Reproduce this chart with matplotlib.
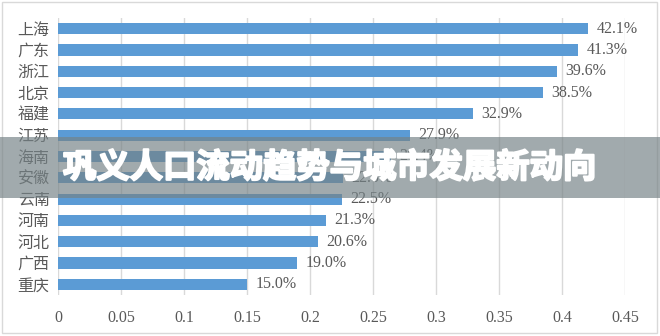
#!/usr/bin/env python3
"""Horizontal bar chart of population share by province, with title banner."""
import matplotlib
matplotlib.use("Agg")
import matplotlib.pyplot as plt
from matplotlib.patches import Rectangle
from matplotlib.ticker import FuncFormatter, MultipleLocator
import matplotlib.patheffects as pe

plt.rcParams["font.family"] = ["Liberation Serif", "Noto Sans CJK SC", "DejaVu Sans"]

provinces = ["上海", "广东", "浙江", "北京", "福建", "江苏", "海南",
             "安徽", "云南", "河南", "河北", "广西", "重庆"]
shares = [0.421, 0.413, 0.396, 0.385, 0.329, 0.279, 0.264,
          0.226, 0.225, 0.213, 0.206, 0.190, 0.150]
title = "巩义人口流动趋势与城市发展新动向"

BAR = "#5b9bd5"
TXT = "#595959"
GRID = "#d9d9d9"

fig = plt.figure(figsize=(6.6, 3.36), dpi=100)
ax = fig.add_axes([58 / 660, 1 - 295 / 336, 567 / 660, 277 / 336])

ypos = list(range(len(provinces)))[::-1]
bars = ax.barh(ypos, shares, height=0.52, color=BAR, zorder=2)
ax.bar_label(bars, labels=[f"{v * 100:.1f}%" for v in shares],
             padding=6, fontsize=11.5, color=TXT)

ax.set_xlim(0, 0.45)
ax.set_ylim(-0.5, len(provinces) - 0.5)
ax.set_yticks(ypos)
ax.set_yticklabels(provinces, fontsize=11.5, color=TXT)
ax.xaxis.set_major_locator(MultipleLocator(0.05))
ax.xaxis.set_major_formatter(FuncFormatter(lambda v, _: f"{v:g}"))
ax.tick_params(axis="x", length=0, pad=11, labelsize=11.5, labelcolor=TXT)
ax.tick_params(axis="y", length=0, pad=6)
ax.grid(axis="x", color=GRID, linewidth=1, zorder=0)
for s in ax.spines.values():
    s.set_visible(False)

# outer chart frame
fig.patches.append(Rectangle((2 / 660, 3 / 336), 655 / 660, 331 / 336,
                             transform=fig.transFigure, fill=False,
                             edgecolor=GRID, linewidth=1))

# title banner across the middle
fig.patches.append(Rectangle((0, 1 - 198 / 336), 1, 61 / 336,
                             transform=fig.transFigure, facecolor="#758286",
                             alpha=0.68, edgecolor="none", zorder=10))
fig.text(0.5, 1 - 168 / 336, title, ha="center", va="center",
         fontsize=24, fontweight="heavy", color="white",
         family=["Noto Sans CJK SC", "DejaVu Sans"], zorder=11,
         path_effects=[pe.withStroke(linewidth=1.5, foreground="white")])

fig.savefig("out.png", dpi=100)
